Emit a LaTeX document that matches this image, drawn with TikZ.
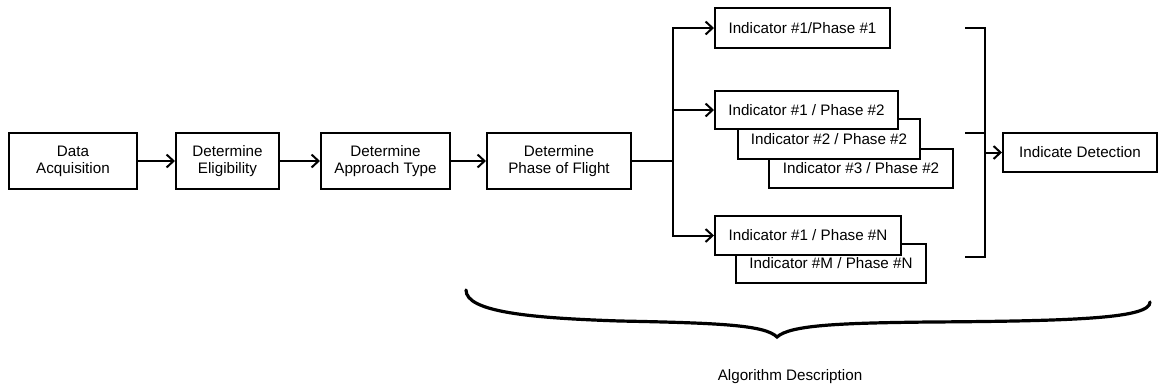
\documentclass[tikz,border=0pt]{standalone}
\usepackage{fontspec}
\setmainfont{Liberation Sans}
\usetikzlibrary{arrows.meta}
\tikzset{
>={Straight Barb[length=3.5pt,width=6.5pt]}, % open arrow heads
my font/.style={font=\fontsize{7.6}{8.6}\selectfont},
my node/.style={draw,fill=white,inner sep=1mm,align=center,my font},
my stage/.style={my node,minimum height=28pt},
my indicator/.style={my node,minimum height=19.5pt},
my brace/.style={line width=1.6pt,line cap=round}
}
\begin{document}
\begin{tikzpicture}[x=0.5pt,y=-0.5pt,line width=1pt]
\useasboundingbox (0,0) rectangle (1160,387);
% processing chain
\node[my stage,minimum width=64pt]   (data)  at (73,161)    {Data\\Acquisition};
\node[my stage,minimum width=51.5pt] (elig)  at (227.5,161) {Determine\\Eligibility};
\node[my stage,minimum width=64.5pt] (appr)  at (385.5,161) {Determine\\Approach Type};
\node[my stage,minimum width=72pt]   (phase) at (559,161)   {Determine\\Phase of Flight};
\draw[->] (data) -- (elig);
\draw[->] (elig) -- (appr);
\draw[->] (appr) -- (phase);
% indicators, back ones first
\node[my indicator,minimum width=87.5pt,minimum height=20pt] (ind11) at (802.5,28) {Indicator \#1/Phase \#1};
\node[my indicator,minimum width=92pt]   (ind32) at (861,168.5) {Indicator \#3 / Phase \#2};
\node[my indicator,minimum width=91pt,minimum height=20pt] (ind22) at (829,139) {Indicator \#2 / Phase \#2};
\node[my indicator,minimum width=91.5pt,minimum height=19pt] (ind12) at (806.5,110) {Indicator \#1 / Phase \#2};
\node[my indicator,minimum width=95pt]   (indMN) at (831,263.5) {Indicator \#M / Phase \#N};
\node[my indicator,minimum width=93pt]   (ind1N) at (808,235.5) {Indicator \#1 / Phase \#N};
\coordinate (fork) at (673,161);
\draw (phase) -- (fork);
\draw[->] (fork) |- (ind11);
\draw[->] (fork) |- (ind12);
\draw[->] (fork) |- (ind1N);
% bracket and detection
\node[my indicator,minimum width=77pt] (detect) at (1080,152.5) {Indicate Detection};
\coordinate (bTop) at (965,28);
\coordinate (bMid) at (965,133);
\coordinate (bBot) at (965,257);
\coordinate (bJoin) at (985,152.5);
\draw (bTop) -| (bJoin |- bBot) -- (bBot);
\draw (bMid) -- (bJoin |- bMid);
\draw[->] (bJoin) -- (detect);
% brace
\draw[my brace] (466,290) .. controls (466,312) and (530,318) .. (620,321)
  .. controls (720,323) and (765,325) .. (777,337)
  .. controls (790,325) and (840,323) .. (930,322)
  .. controls (1080,321) and (1150,318) .. (1150,302);
\node[my font] (algo) at (790,377) {Algorithm Description};
\end{tikzpicture}
\end{document}
